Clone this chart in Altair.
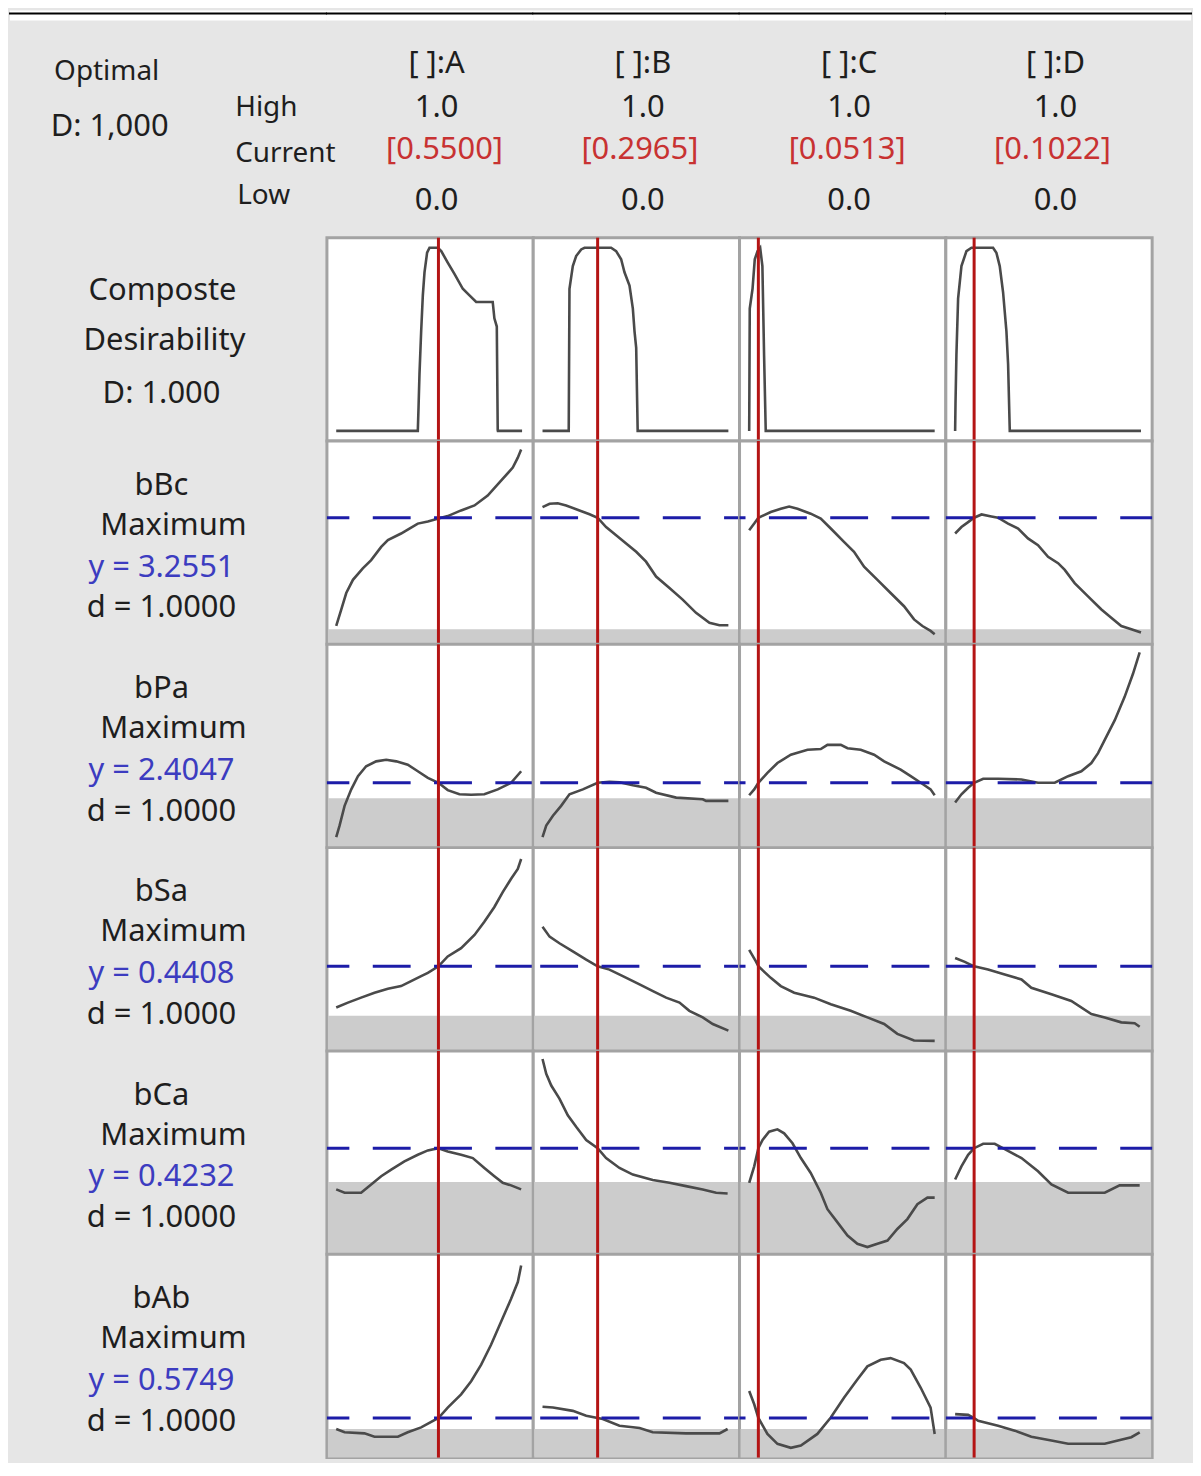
import altair as alt
import pandas as pd

# ---------------- data ----------------
FACTORS = ["A", "B", "C", "D"]
HIGH = ["1.0", "1.0", "1.0", "1.0"]
LOW = ["0.0", "0.0", "0.0", "0.0"]
CURRENT = [0.5500, 0.2965, 0.0513, 0.1022]
OPTIMAL_D = "1,000"
COMPOSITE_D = "1.000"

RESPONSES = ["bBc", "bPa", "bSa", "bCa", "bAb"]
GOALS = ["Maximum"] * 5
Y_VALUES = ["3.2551", "2.4047", "0.4408", "0.4232", "0.5749"]
D_VALUES = ["1.0000"] * 5
# response level at the optimum and lower bound, on each panel's relative scale (0 = bottom, 1 = top)
Y_OPT_REL = [0.636, 0.299, 0.407, 0.524, 0.161]
LOWER_REL = [0.027, 0.215, 0.137, 0.339, 0.101]

# composite desirability traces (factor level, desirability)
COMP = {
    "A": ([0, 0.439, 0.443, 0.448, 0.457, 0.466, 0.475, 0.489, 0.502, 0.547, 0.565, 0.6, 0.636, 0.681, 0.717, 0.753, 0.842, 0.851, 0.864, 0.869, 0.87, 1.0],
          [0, 0, 0.131, 0.31, 0.543, 0.74, 0.866, 0.973, 1.0, 1.0, 0.982, 0.919, 0.857, 0.776, 0.74, 0.704, 0.704, 0.615, 0.57, 0.005, 0, 0]),
    "B": ([0, 0.141, 0.145, 0.163, 0.181, 0.208, 0.226, 0.369, 0.396, 0.423, 0.441, 0.468, 0.486, 0.495, 0.504, 0.512, 1.0],
          [0, 0, 0.776, 0.9, 0.955, 0.991, 1.0, 1.0, 0.982, 0.937, 0.866, 0.794, 0.668, 0.543, 0.453, 0, 0]),
    "C": ([0.002, 0.005, 0.02, 0.032, 0.047, 0.061, 0.073, 0.082, 0.091, 1.0],
          [0, 0.668, 0.776, 0.937, 0.982, 1.0, 0.9, 0.418, 0, 0]),
    "D": ([0, 0.002, 0.007, 0.016, 0.034, 0.061, 0.088, 0.204, 0.222, 0.24, 0.258, 0.276, 0.285, 0.294, 1.0],
          [0, 0.149, 0.418, 0.722, 0.9, 0.982, 1.0, 1.0, 0.973, 0.9, 0.757, 0.543, 0.364, 0, 0]),
}

# response traces (factor level, relative response)
BBC = {
    "A": ([0, 0.027, 0.054, 0.09, 0.143, 0.188, 0.242, 0.278, 0.349, 0.394, 0.439, 0.493, 0.55, 0.6, 0.672, 0.744, 0.815, 0.887, 0.95, 0.977, 0.995],
          [0.045, 0.135, 0.225, 0.297, 0.36, 0.405, 0.477, 0.514, 0.55, 0.577, 0.604, 0.616, 0.632, 0.645, 0.676, 0.703, 0.757, 0.838, 0.91, 0.964, 1.009]),
    "B": ([0, 0.038, 0.082, 0.127, 0.199, 0.253, 0.2965, 0.342, 0.396, 0.45, 0.504, 0.557, 0.611, 0.683, 0.754, 0.826, 0.898, 0.952, 1.0],
          [0.694, 0.712, 0.715, 0.703, 0.676, 0.655, 0.636, 0.585, 0.541, 0.496, 0.45, 0.396, 0.315, 0.252, 0.189, 0.117, 0.063, 0.049, 0.049]),
    "C": ([0.002, 0.029, 0.0513, 0.118, 0.172, 0.217, 0.262, 0.333, 0.387, 0.441, 0.512, 0.566, 0.62, 0.692, 0.763, 0.835, 0.889, 0.934, 0.978, 1.0],
          [0.568, 0.604, 0.636, 0.667, 0.685, 0.697, 0.685, 0.658, 0.631, 0.577, 0.504, 0.45, 0.369, 0.297, 0.225, 0.153, 0.081, 0.045, 0.018, 0.0]),
    "D": ([0, 0.034, 0.07, 0.1022, 0.142, 0.195, 0.231, 0.285, 0.339, 0.392, 0.446, 0.5, 0.554, 0.59, 0.643, 0.715, 0.787, 0.84, 0.894, 0.948, 1.0],
          [0.55, 0.585, 0.612, 0.636, 0.654, 0.643, 0.636, 0.604, 0.577, 0.523, 0.486, 0.423, 0.388, 0.351, 0.279, 0.207, 0.135, 0.09, 0.045, 0.027, 0.009]),
}
BPA = {
    "A": ([0, 0.018, 0.045, 0.081, 0.117, 0.161, 0.215, 0.269, 0.323, 0.385, 0.439, 0.493, 0.55, 0.6, 0.663, 0.726, 0.797, 0.869, 0.941, 0.995],
          [0.002, 0.065, 0.173, 0.263, 0.335, 0.389, 0.416, 0.425, 0.416, 0.398, 0.362, 0.326, 0.299, 0.259, 0.236, 0.234, 0.236, 0.263, 0.299, 0.362]),
    "B": ([0, 0.02, 0.056, 0.1, 0.145, 0.217, 0.2965, 0.36, 0.414, 0.486, 0.557, 0.611, 0.719, 0.862, 0.88, 1.0],
          [0.002, 0.065, 0.119, 0.173, 0.236, 0.263, 0.299, 0.305, 0.302, 0.285, 0.272, 0.245, 0.218, 0.209, 0.2, 0.2]),
    "C": ([0.002, 0.029, 0.0513, 0.1, 0.154, 0.226, 0.316, 0.387, 0.423, 0.495, 0.531, 0.602, 0.674, 0.728, 0.817, 0.871, 0.925, 0.978, 1.0],
          [0.231, 0.263, 0.299, 0.353, 0.407, 0.452, 0.479, 0.483, 0.506, 0.506, 0.488, 0.479, 0.452, 0.416, 0.371, 0.335, 0.299, 0.263, 0.231]),
    "D": ([0, 0.034, 0.07, 0.1022, 0.151, 0.231, 0.357, 0.446, 0.536, 0.608, 0.679, 0.733, 0.769, 0.805, 0.859, 0.912, 0.957, 0.993],
          [0.191, 0.236, 0.272, 0.299, 0.321, 0.321, 0.317, 0.299, 0.299, 0.335, 0.362, 0.407, 0.461, 0.533, 0.641, 0.768, 0.894, 1.011]),
}
BSA = {
    "A": ([0, 0.063, 0.134, 0.206, 0.278, 0.349, 0.403, 0.457, 0.493, 0.55, 0.6, 0.672, 0.744, 0.797, 0.851, 0.896, 0.941, 0.977, 0.995],
          [0.182, 0.209, 0.236, 0.263, 0.285, 0.299, 0.326, 0.353, 0.371, 0.407, 0.461, 0.506, 0.578, 0.65, 0.731, 0.812, 0.885, 0.939, 0.993]),
    "B": ([0, 0.038, 0.091, 0.163, 0.235, 0.2965, 0.36, 0.432, 0.522, 0.594, 0.665, 0.737, 0.79, 0.862, 0.916, 1.0],
          [0.623, 0.569, 0.533, 0.488, 0.443, 0.407, 0.389, 0.353, 0.308, 0.272, 0.236, 0.209, 0.164, 0.128, 0.092, 0.056]),
    "C": ([0.002, 0.038, 0.0513, 0.118, 0.172, 0.244, 0.351, 0.441, 0.548, 0.638, 0.728, 0.799, 0.889, 1.0],
          [0.497, 0.434, 0.407, 0.344, 0.299, 0.263, 0.236, 0.2, 0.164, 0.128, 0.092, 0.038, 0.002, 0.0]),
    "D": ([0, 0.052, 0.1022, 0.177, 0.267, 0.357, 0.41, 0.518, 0.625, 0.733, 0.805, 0.894, 0.966, 0.993],
          [0.452, 0.431, 0.407, 0.389, 0.362, 0.335, 0.29, 0.254, 0.218, 0.146, 0.128, 0.101, 0.096, 0.077]),
}
BCA = {
    "A": ([0, 0.045, 0.134, 0.188, 0.242, 0.296, 0.367, 0.439, 0.493, 0.55, 0.6, 0.672, 0.735, 0.797, 0.851, 0.896, 0.941, 0.995],
          [0.299, 0.281, 0.281, 0.326, 0.371, 0.407, 0.452, 0.488, 0.512, 0.524, 0.506, 0.488, 0.47, 0.416, 0.371, 0.335, 0.321, 0.299]),
    "B": ([0, 0.02, 0.047, 0.091, 0.136, 0.181, 0.235, 0.2965, 0.342, 0.414, 0.486, 0.593, 0.683, 0.772, 0.862, 0.934, 0.996],
          [1.011, 0.93, 0.866, 0.795, 0.704, 0.641, 0.569, 0.524, 0.47, 0.416, 0.38, 0.35, 0.335, 0.317, 0.299, 0.281, 0.277]),
    "C": ([0.002, 0.029, 0.0513, 0.074, 0.109, 0.154, 0.19, 0.235, 0.28, 0.333, 0.387, 0.423, 0.477, 0.531, 0.584, 0.638, 0.692, 0.746, 0.799, 0.853, 0.907, 0.961, 1.0],
          [0.335, 0.425, 0.524, 0.569, 0.614, 0.627, 0.605, 0.551, 0.47, 0.389, 0.281, 0.191, 0.119, 0.047, 0.002, -0.016, 0.002, 0.02, 0.083, 0.137, 0.218, 0.254, 0.254]),
    "D": ([0, 0.034, 0.07, 0.1022, 0.151, 0.213, 0.267, 0.357, 0.446, 0.518, 0.608, 0.805, 0.885, 0.993],
          [0.353, 0.425, 0.488, 0.524, 0.548, 0.548, 0.519, 0.47, 0.398, 0.326, 0.281, 0.281, 0.321, 0.321]),
}
BAB = {
    "A": ([0, 0.045, 0.152, 0.206, 0.332, 0.385, 0.457, 0.55, 0.6, 0.672, 0.726, 0.78, 0.833, 0.887, 0.941, 0.977, 0.995],
          [0.101, 0.083, 0.077, 0.059, 0.059, 0.083, 0.11, 0.161, 0.218, 0.29, 0.362, 0.452, 0.561, 0.686, 0.812, 0.903, 0.993]),
    "B": ([0, 0.056, 0.163, 0.235, 0.2965, 0.324, 0.414, 0.522, 0.593, 0.772, 0.952, 0.996],
          [0.222, 0.218, 0.2, 0.173, 0.161, 0.155, 0.119, 0.106, 0.083, 0.077, 0.077, 0.101]),
    "C": ([0.002, 0.029, 0.0513, 0.1, 0.154, 0.226, 0.28, 0.369, 0.441, 0.512, 0.584, 0.638, 0.71, 0.763, 0.835, 0.871, 0.925, 0.978, 1.0],
          [0.308, 0.236, 0.161, 0.074, 0.02, -0.002, 0.011, 0.074, 0.164, 0.272, 0.371, 0.443, 0.479, 0.488, 0.461, 0.425, 0.326, 0.218, 0.074]),
    "D": ([0, 0.07, 0.1022, 0.124, 0.231, 0.321, 0.41, 0.518, 0.608, 0.805, 0.876, 0.948, 0.993],
          [0.182, 0.178, 0.161, 0.146, 0.119, 0.092, 0.059, 0.038, 0.02, 0.02, 0.038, 0.056, 0.083]),
}
RESP_TRACES = [BBC, BPA, BSA, BCA, BAB]

# ---------------- styling / layout ----------------
FONT = "Noto Sans"
TXT = "#1e1e1e"
RED_TXT = "#c83232"
BLUE_TXT = "#3c3cc0"
BG = "#e6e6e6"
W_LABEL, W_PANEL, H_PANEL, H_HEAD, H_STRIP = 318, 207, 204, 218, 10
RIGHT_MARGIN = 39
DOM = [-0.05, 1.06]
DASH = [38, 23.5]
RED_X = [118, 107, 108, 107]


def text_layer(value, x, y, size, color=TXT, align="center"):
    return alt.Chart(alt.Data(values=[{"t": value}])).mark_text(
        font=FONT, fontSize=size, color=color, align=align, baseline="middle"
    ).encode(text="t:N", x=alt.value(x), y=alt.value(y + H_STRIP))


def strip_layers(width):
    white = alt.Chart(alt.Data(values=[{"a": 1}])).mark_rect(color="white").encode(
        x=alt.value(0), x2=alt.value(width), y=alt.value(0), y2=alt.value(H_STRIP))
    rule = alt.Chart(alt.Data(values=[{"a": 1}])).mark_rule(color="black", strokeWidth=2).encode(
        x=alt.value(-1), x2=alt.value(width + 1), y=alt.value(3))
    return [white, rule]


def panel(xs, ys, col, y_opt=None, lower=None):
    sx = alt.Scale(domain=DOM)
    sy = alt.Scale(domain=[-0.055, 1.055])
    layers = []
    if lower is not None:
        layers.append(
            alt.Chart(pd.DataFrame({"lo": [-0.055], "hi": [lower]}))
            .mark_rect(color="#cccccc")
            .encode(y=alt.Y("lo:Q", scale=sy, axis=None), y2="hi:Q",
                    x=alt.value(1), x2=alt.value(W_PANEL - 1))
        )
    df = pd.DataFrame({"x": xs, "y": ys, "i": list(range(len(xs)))})
    layers.append(
        alt.Chart(df).mark_line(color="#4a4a4a", strokeWidth=2.6, clip=True)
        .encode(x=alt.X("x:Q", scale=sx, axis=None),
                y=alt.Y("y:Q", scale=sy, axis=None), order="i:Q")
    )
    if y_opt is not None:
        off = (col * W_PANEL) % (DASH[0] + DASH[1])
        layers.append(
            alt.Chart(pd.DataFrame({"y": [y_opt]}))
            .mark_rule(color="#1c1ca8", strokeWidth=3, strokeDash=DASH, strokeDashOffset=off)
            .encode(y=alt.Y("y:Q", scale=sy, axis=None))
        )
    layers.append(
        alt.Chart(pd.DataFrame({"x": [CURRENT[col]]}))
        .mark_rule(color="#b41414", strokeWidth=3)
        .encode(x=alt.X("x:Q", scale=sx, axis=None))
    )
    return alt.layer(*layers).properties(
        width=W_PANEL, height=H_PANEL,
        view=alt.ViewBackground(fill="white", stroke="#a3a3a3", strokeWidth=3),
    )


cells = []
# header row (with the top strip on its first 10 px)
cells.append(alt.layer(
    *strip_layers(W_LABEL),
    text_layer("Optimal", 97, 52, 28),
    text_layer("D: " + OPTIMAL_D, 100, 107, 31),
    text_layer("High", 226, 88, 28, align="left"),
    text_layer("Current", 226, 134, 28, align="left"),
    text_layer("Low", 228, 176, 28, align="left"),
).properties(width=W_LABEL, height=H_HEAD + H_STRIP))

for i, f in enumerate(FACTORS):
    sw = W_PANEL + (RIGHT_MARGIN if i == len(FACTORS) - 1 else 0)
    cells.append(alt.layer(
        *strip_layers(sw),
        text_layer("[ ]:" + f, 110, 44, 31),
        text_layer(HIGH[i], 110, 88, 31),
        text_layer("[%.4f]" % CURRENT[i], RED_X[i], 130, 31, color=RED_TXT),
        text_layer(LOW[i], 110, 181, 31),
    ).properties(width=W_PANEL, height=H_HEAD + H_STRIP))

# composite row
cells.append(alt.layer(
    text_layer("Composte", 153, 54 - H_STRIP, 31),
    text_layer("Desirability", 155, 104 - H_STRIP, 31),
    text_layer("D: " + COMPOSITE_D, 152, 157 - H_STRIP, 31),
).properties(width=W_LABEL, height=H_PANEL))
for i, f in enumerate(FACTORS):
    cells.append(panel(COMP[f][0], COMP[f][1], i))

# response rows
for r, name in enumerate(RESPONSES):
    cells.append(alt.layer(
        text_layer(name, 152, 45 - H_STRIP, 31),
        text_layer(GOALS[r], 164, 85 - H_STRIP, 31),
        text_layer("y = " + Y_VALUES[r], 152, 127 - H_STRIP, 31, color=BLUE_TXT),
        text_layer("d = " + D_VALUES[r], 152, 168 - H_STRIP, 31),
    ).properties(width=W_LABEL, height=H_PANEL))
    tr = RESP_TRACES[r]
    for i, f in enumerate(FACTORS):
        cells.append(panel(tr[f][0], tr[f][1], i, Y_OPT_REL[r], LOWER_REL[r]))

chart = alt.concat(*cells, columns=5, spacing=0, bounds="flush").properties(
    padding=0, background=BG
).configure_view(strokeWidth=0)

chart.save("out.html", embed_options={"renderer": "svg", "actions": False})
